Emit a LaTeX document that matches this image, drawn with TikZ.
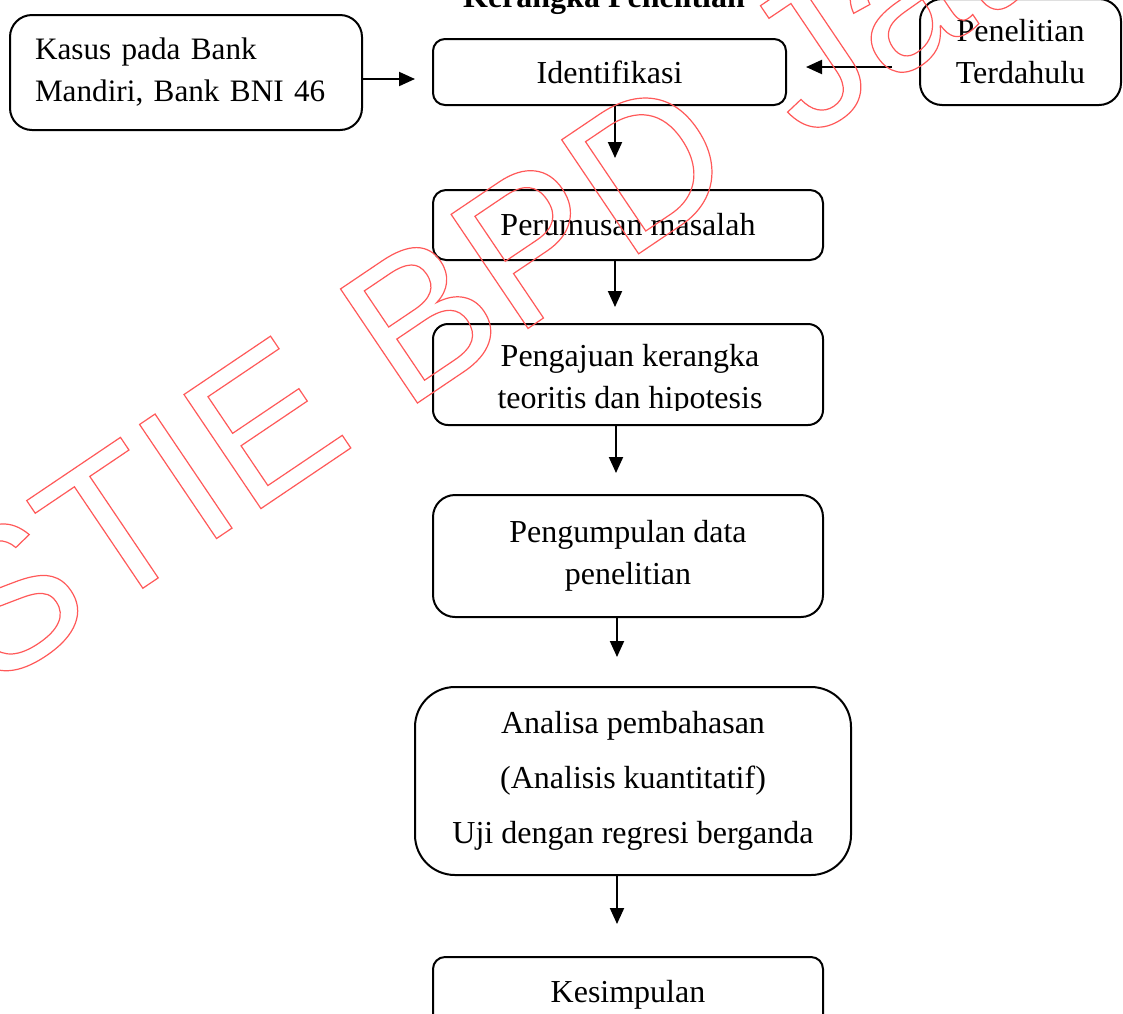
\documentclass[tikz,border=0pt]{standalone}
\usepackage{fontspec}
\setmainfont{Liberation Serif}
\newfontfamily\wmfont{Liberation Sans}
\usetikzlibrary{arrows.meta}
\frenchspacing
\begin{document}
\begin{tikzpicture}[x=0.5pt,y=-0.5pt,
  box/.style={draw=black, line width=1pt, inner sep=0pt, align=center,
    font=\fontsize{16pt}{21pt}\selectfont},
  lbl/.style={inner sep=0pt, align=center, font=\fontsize{16pt}{21pt}\selectfont},
  arr/.style={line width=1pt, -{Triangle[width=7pt,length=8pt]}},
  wmark/.style={anchor=base west, rotate=34, inner sep=0pt, text=red!65,
    font=\wmfont\fontsize{100pt}{100pt}\selectfont}
  ]
\useasboundingbox (0,0) rectangle (1123,1013);
\clip (0,0) rectangle (1123,1013);

% title (cut by the top edge)
\node[lbl, font=\bfseries\fontsize{16pt}{21pt}\selectfont, anchor=base] (title) at (604,7) {Kerangka Penelitian};

% boxes
\node[box, rounded corners=11pt, minimum height=57.5pt, text width=151pt, inner xsep=12.5pt, align=left,
  font=\fontsize{15.6pt}{21pt}\selectfont]
  (kasus) at (186,72.5) {Kasus pada Bank\\Mandiri, Bank BNI 46};
\node[box, rounded corners=6pt, minimum width=176.5pt, minimum height=33pt]
  (ident) at (609.5,72) {Identifikasi};
\node[box, rounded corners=11pt, minimum width=100.5pt, minimum height=53pt]
  (pen) at (1020.5,52) {Penelitian\\Terdahulu};
\node[box, rounded corners=6.5pt, minimum width=195pt, minimum height=35pt]
  (peru) at (628,225) {Perumusan masalah};
\node[box, rounded corners=7.5pt, minimum width=195pt, minimum height=50.5pt]
  (penga) at (628,374.5) {};
\begin{scope}
  \clip (433,324) rectangle (823,410);
  \node[lbl] (pengatext) at (630,379.5) {Pengajuan kerangka\\teoritis dan hipotesis};
\end{scope}
\node[box, rounded corners=11pt, minimum width=195pt, minimum height=61pt]
  (pengum) at (628,556) {Pengumpulan data\\penelitian};
\node[box, rounded corners=20pt, minimum width=218pt, minimum height=94pt,
  font=\fontsize{16pt}{27.5pt}\selectfont]
  (anal) at (633,781) {Analisa pembahasan\\(Analisis kuantitatif)\\Uji dengan regresi berganda};
\node[box, rounded corners=6pt, minimum width=195pt, minimum height=38pt]
  (kesim) at (628,995) {Kesimpulan};

% arrow end points
\coordinate (t0) at (415,79);
\coordinate (s1) at (892,67);
\coordinate (t1) at (806,67);
\coordinate (t2) at (615,158);
\coordinate (t3) at (615,307);
\coordinate (t4) at (616,473);
\coordinate (t5) at (617,657);
\coordinate (t6) at (617,924);

\draw[arr] (kasus.east |- t0) -- (t0);
\draw[arr] (s1) -- (t1);
\draw[arr] (ident.south -| t2) -- (t2);
\draw[arr] (peru.south -| t3) -- (t3);
\draw[arr] (penga.south -| t4) -- (t4);
\draw[arr] (pengum.south -| t5) -- (t5);
\draw[arr] (anal.south -| t6) -- (t6);

% watermark
\node[wmark] (wm) at (-11,692)
  {\special{pdf:literal direct 1 Tr 0.6 w}STIE BPD\hspace{8pt} Jateng\special{pdf:literal direct 0 Tr}};
\end{tikzpicture}
\end{document}
